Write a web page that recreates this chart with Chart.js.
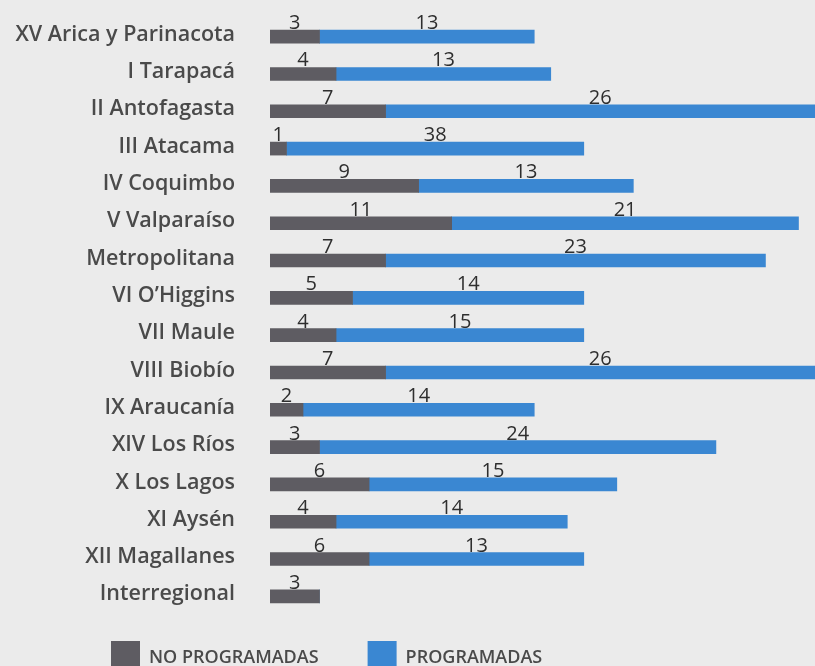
<!DOCTYPE html>
<html>
<head>
<meta charset="utf-8">
<script src="https://cdn.jsdelivr.net/npm/chart.js@4.4.0/dist/chart.umd.min.js"></script>
<style>
  html, body { margin: 0; padding: 0; background: #ebebeb; overflow: hidden; }
  #wrap { width: 815px; height: 666px; position: relative; }
</style>
</head>
<body>
<div id="wrap"><canvas id="regiones"></canvas></div>
<script>
const regiones = [
  'XV Arica y Parinacota', 'I Tarapacá', 'II Antofagasta', 'III Atacama',
  'IV Coquimbo', 'V Valparaíso', 'Metropolitana', "VI O’Higgins",
  'VII Maule', 'VIII Biobío', 'IX Araucanía', 'XIV Los Ríos',
  'X Los Lagos', 'XI Aysén', 'XII Magallanes', 'Interregional'
];

const noProgramadas = [3, 4, 7, 1, 9, 11, 7, 5, 4, 7, 2, 3, 6, 4, 6, 3];
// largo de barra tal como se dibuja (Atacama se dibuja como 18)
const programadas = [13, 13, 26, 18, 13, 21, 23, 14, 15, 26, 14, 24, 15, 14, 13, 0];
// numeros impresos sobre las barras
const programadasTexto = ['13', '13', '26', '38', '13', '21', '23', '14', '15', '26', '14', '24', '15', '14', '13', ''];

const colorGris = '#5e5c62';
const colorAzul = '#3a87d2';
const colorTexto = '#4a4a4a';
const fuente = "'Open Sans', sans-serif";

// numeros sobre cada tramo de barra
const etiquetasValor = {
  id: 'etiquetasValor',
  afterDatasetsDraw(chart) {
    const ctx = chart.ctx;
    ctx.save();
    ctx.font = `500 20px ${fuente}`;
    ctx.fillStyle = '#2e2e2e';
    ctx.textAlign = 'center';
    ctx.textBaseline = 'alphabetic';
    chart.data.datasets.forEach((ds, i) => {
      chart.getDatasetMeta(i).data.forEach((bar, j) => {
        const txt = ds.textos[j];
        if (!txt) return;
        const p = bar.getProps(['x', 'y', 'base', 'height'], true);
        ctx.fillText(txt, (p.x + p.base) / 2, p.y - p.height / 2 - 1);
      });
    });
    ctx.restore();
  }
};

// leyenda abajo, cortada por el borde como en el original
const leyenda = {
  id: 'leyenda',
  afterDraw(chart) {
    const ctx = chart.ctx;
    ctx.save();
    ctx.font = `600 18px ${fuente}`;
    ctx.textBaseline = 'alphabetic';
    let x = 111;
    chart.data.datasets.forEach(ds => {
      ctx.fillStyle = ds.backgroundColor;
      ctx.fillRect(x, 641, 29, 30);
      ctx.fillStyle = colorTexto;
      ctx.fillText(ds.label, x + 38, 663);
      x += 38 + ctx.measureText(ds.label).width + 49;
    });
    ctx.restore();
  }
};

new Chart(document.getElementById('regiones'), {
  type: 'bar',
  data: {
    labels: regiones,
    datasets: [
      { label: 'NO PROGRAMADAS', data: noProgramadas, textos: noProgramadas.map(String), backgroundColor: colorGris, barThickness: 13 },
      { label: 'PROGRAMADAS', data: programadas, textos: programadasTexto, backgroundColor: colorAzul, barThickness: 13 }
    ]
  },
  options: {
    indexAxis: 'y',
    responsive: true,
    maintainAspectRatio: false,
    animation: false,
    layout: { padding: { top: 18, bottom: 51, left: 0, right: 0 } },
    scales: {
      x: { stacked: true, min: 0, max: 33, display: false },
      y: {
        stacked: true,
        grid: { display: false, drawTicks: false },
        border: { display: false },
        ticks: { padding: 35, labelOffset: -2, color: colorTexto, font: { family: fuente, size: 21.5, weight: '600' } },
        afterFit(scale) {
          scale.width = 270;
          scale.paddingTop = 0;
          scale.paddingBottom = 0;
        }
      }
    },
    plugins: {
      legend: { display: false },
      tooltip: { enabled: false }
    }
  },
  plugins: [etiquetasValor, leyenda]
});
</script>
</body>
</html>
